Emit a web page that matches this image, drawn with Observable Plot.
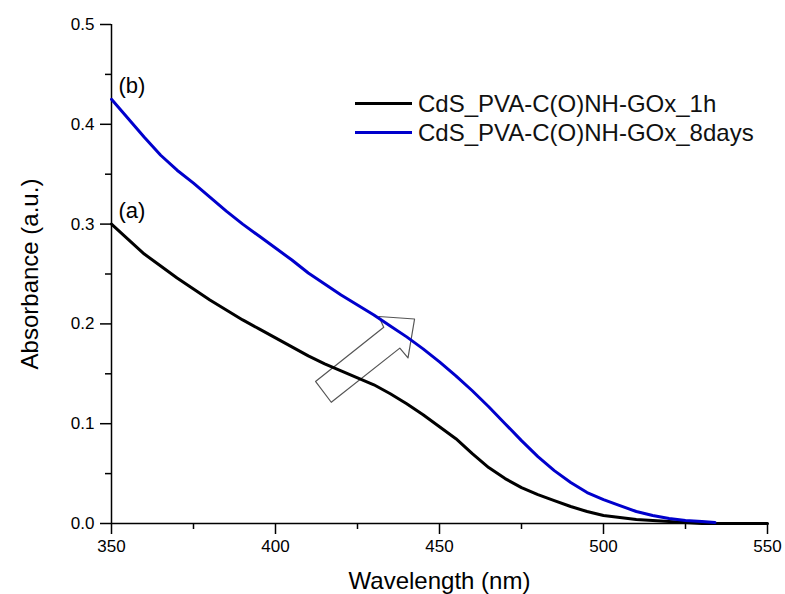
<!DOCTYPE html>
<html><head><meta charset="utf-8">
<script src="https://cdn.jsdelivr.net/npm/d3@7"></script>
<script src="https://cdn.jsdelivr.net/npm/@observablehq/plot@0.6"></script>
<style>
body{margin:0;background:#fff;}
#wrap{position:relative;width:785px;height:594px;font-family:"Liberation Sans",Arial,sans-serif;}
#legend{position:absolute;left:355px;top:89px;font-size:24px;color:#111;line-height:29px;}
.row{display:flex;align-items:center;height:29px;white-space:nowrap;}
.sw{width:57px;height:3px;margin-right:6px;}
</style></head><body><div id="wrap"><div id="legend"></div></div>
<script>
// Data
const wavelengthA = [350,355,360,365,370,375,380,385,390,395,400,405,410,415,420,425,430,435,440,445,450,455,460,465,470,475,480,485,490,495,500,505,510,515,520,525,530,535,540,545,550];
const absorbanceA = [0.300,0.285,0.270,0.258,0.246,0.235,0.224,0.214,0.204,0.195,0.186,0.177,0.168,0.160,0.153,0.146,0.139,0.130,0.120,0.109,0.097,0.085,0.070,0.056,0.045,0.036,0.029,0.023,0.017,0.012,0.008,0.006,0.004,0.003,0.002,0.001,0.000,0.000,0.000,0.000,0.000];
const wavelengthB = [350,355,360,365,370,375,380,385,390,395,400,405,410,415,420,425,430,435,440,445,450,455,460,465,470,475,480,485,490,495,500,505,510,515,520,525,530,534];
const absorbanceB = [0.425,0.406,0.387,0.369,0.354,0.341,0.327,0.313,0.300,0.288,0.276,0.264,0.251,0.240,0.229,0.219,0.209,0.198,0.187,0.175,0.162,0.148,0.133,0.117,0.100,0.083,0.067,0.053,0.041,0.031,0.024,0.018,0.012,0.008,0.005,0.003,0.002,0.001];
const seriesNames = ["CdS_PVA-C(O)NH-GOx_1h","CdS_PVA-C(O)NH-GOx_8days"];
const seriesColors = ["#000000","#0000CC"];
const curveLabels = ["(a)","(b)"];
const xMajor = [350,400,450,500,550];
const xMinor = [375,425,475,525];
const yMajor = [0.0,0.1,0.2,0.3,0.4,0.5];
const yMinor = [0.05,0.15,0.25,0.35,0.45];
const xTitle = "Wavelength (nm)";
const yTitle = "Absorbance (a.u.)";
// hollow arrow annotation outline (data coordinates)
const arrowX = [412.2,433.0,431.5,442.4,440.4,437.9,417.0,412.2];
const arrowY = [0.1423,0.1967,0.2074,0.2049,0.1660,0.1757,0.1215,0.1423];

const W = 785, H = 594, ML = 111, MR = 18, MT = 24, MB = 71;
const plotW = W - ML - MR, plotH = H - MT - MB;
const MAJOR = 11, MINOR = 6;

const dataA = wavelengthA.map((w,i)=>({x:w,y:absorbanceA[i]}));
const dataB = wavelengthB.map((w,i)=>({x:w,y:absorbanceB[i]}));
const arrow = arrowX.map((x,i)=>({x,y:arrowY[i]}));
const labels = [
  {x:wavelengthA[0], y:absorbanceA[0], t:curveLabels[0]},
  {x:wavelengthB[0], y:absorbanceB[0], t:curveLabels[1]}
];
const tk = {stroke:"#000", strokeWidth:1.5, strokeOpacity:1};

const chart = Plot.plot({
  width:W, height:H,
  marginLeft:ML, marginRight:MR, marginTop:MT, marginBottom:MB,
  x:{domain:[350,550]},
  y:{domain:[0,0.5]},
  style:{fontFamily:"'Liberation Sans', Arial, sans-serif", background:"white"},
  marks:[
    // tick labels
    Plot.axisX({ticks:xMajor, tickSize:0, tickPadding:16, fontSize:17, tickFormat:d3.format("d"), label:null}),
    Plot.axisY({ticks:yMajor, tickSize:0, tickPadding:17, fontSize:17, tickFormat:d3.format(".1f"), label:null}),
    // outward tick marks (drawn after the labels)
    Plot.tickY(yMajor, {y:d=>d, insetRight:plotW - MAJOR, dx:-MAJOR, ...tk}),
    Plot.tickY(yMinor, {y:d=>d, insetRight:plotW - MINOR, dx:-MINOR, ...tk}),
    Plot.tickX(xMajor, {x:d=>d, insetTop:plotH - MAJOR, dy:MAJOR, ...tk}),
    Plot.tickX(xMinor, {x:d=>d, insetTop:plotH - MINOR, dy:MINOR, ...tk}),
    Plot.ruleX([350], {stroke:"#000", strokeWidth:1.5}),
    Plot.ruleY([0], {stroke:"#000", strokeWidth:1.5}),
    Plot.line(arrow, {x:"x", y:"y", stroke:"#555", strokeWidth:1.2}),
    Plot.line(dataA, {x:"x", y:"y", stroke:seriesColors[0], strokeWidth:3}),
    Plot.line(dataB, {x:"x", y:"y", stroke:seriesColors[1], strokeWidth:3}),
    Plot.text(labels, {x:"x", y:"y", text:"t", textAnchor:"start", dx:7, dy:-13, fontSize:22}),
    Plot.text([xTitle], {frameAnchor:"bottom", textAnchor:"middle", lineAnchor:"middle", dy:58, fontSize:24}),
    Plot.text([yTitle], {frameAnchor:"left", textAnchor:"middle", lineAnchor:"middle", dx:-81, rotate:-90, fontSize:24})
  ]
});
const wrap = document.getElementById("wrap");
wrap.insertBefore(chart, wrap.firstChild);
const legend = document.getElementById("legend");
seriesNames.forEach((n,i)=>{
  const r = document.createElement("div"); r.className="row";
  const s = document.createElement("span"); s.className="sw"; s.style.background=seriesColors[i];
  const t = document.createElement("span"); t.textContent=n;
  r.appendChild(s); r.appendChild(t); legend.appendChild(r);
});
</script></body></html>
